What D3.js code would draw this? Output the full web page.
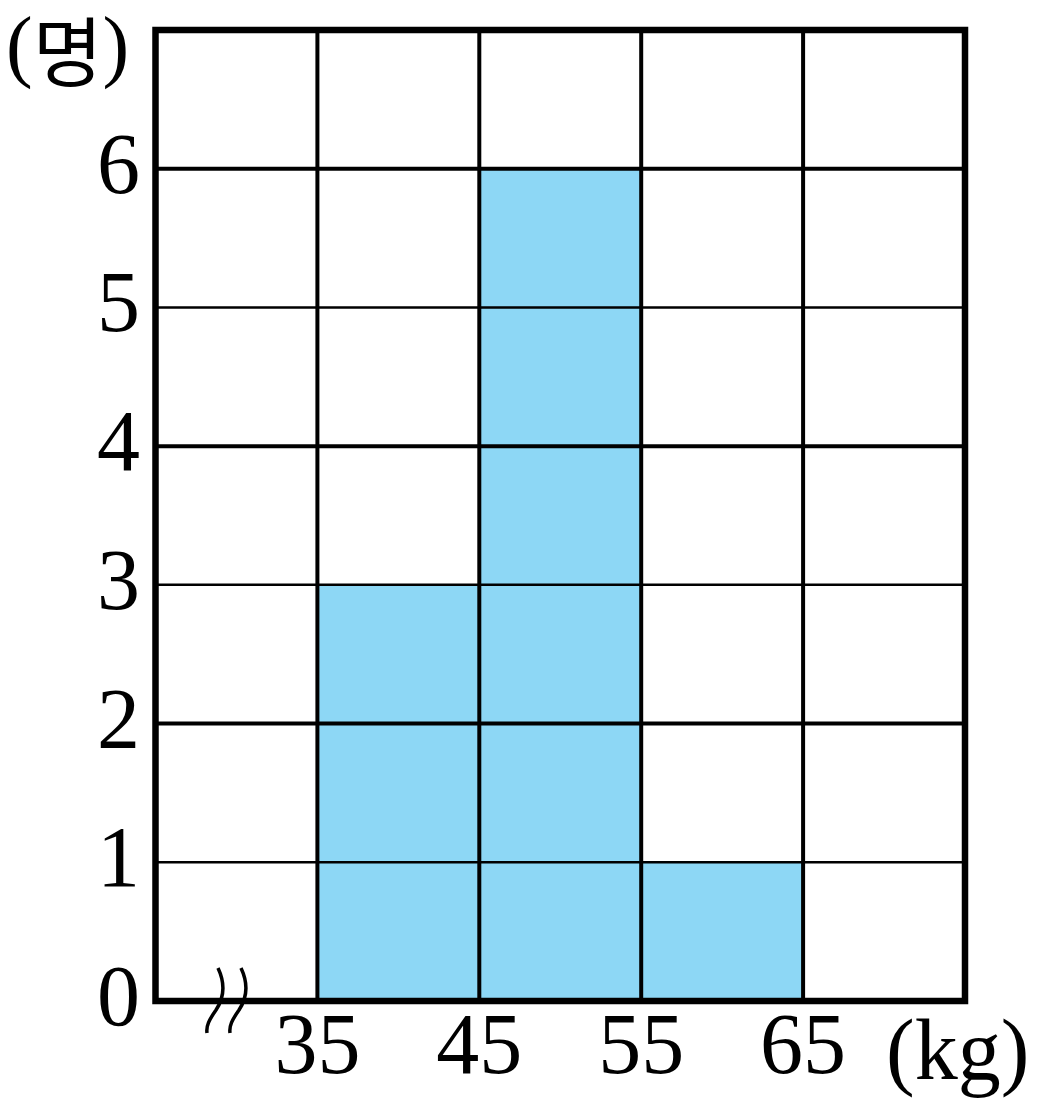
<!DOCTYPE html>
<html><head><meta charset="utf-8">
<script src="https://cdn.jsdelivr.net/npm/d3@7"></script>
<style>html,body{margin:0;padding:0;background:#fff;}</style>
</head><body>
<svg id="chart" width="1050" height="1111"></svg>
<script>
const binStarts = [25, 35, 45, 55, 65];
const counts = [0, 3, 6, 1, 0];
const xTickLabels = [35, 45, 55, 65];
const yTickLabels = [0, 1, 2, 3, 4, 5, 6];
const yMax = 7;
const xUnit = "(kg)";
const yUnit = "명";

(function(){
const svg = d3.select("#chart");
const pl = 155.5, pr = 965, pt = 30, pb = 1001;
const x = d3.scaleLinear().domain([25, 75]).range([pl, pr]);
const y = d3.scaleLinear().domain([0, yMax]).range([pb, pt]);
const font = "'Liberation Serif', 'Noto Sans CJK KR', serif";

// bars
svg.append("g").selectAll("rect").data(binStarts.map((b,i)=>({b, c:counts[i]})).filter(d=>d.c>0))
  .join("rect")
  .attr("x", d=>x(d.b)).attr("width", d=>x(d.b+10)-x(d.b))
  .attr("y", d=>y(d.c)).attr("height", d=>y(0)-y(d.c))
  .attr("fill", "#8dd7f5");

// horizontal grid
svg.append("g").selectAll("line").data(d3.range(1, yMax)).join("line")
  .attr("x1", pl).attr("x2", pr)
  .attr("y1", d=>y(d)).attr("y2", d=>y(d))
  .attr("stroke", "#000").attr("stroke-width", d=> d%2===0 ? 4 : 2.5);

// vertical grid
svg.append("g").selectAll("line").data(xTickLabels).join("line")
  .attr("x1", d=>x(d)).attr("x2", d=>x(d))
  .attr("y1", pt).attr("y2", pb)
  .attr("stroke", "#000").attr("stroke-width", 4);

// border
svg.append("rect").attr("x", pl).attr("y", pt)
  .attr("width", pr-pl).attr("height", pb-pt)
  .attr("fill", "none").attr("stroke", "#000").attr("stroke-width", 6.5);

// y tick labels
svg.append("g").selectAll("text").data(yTickLabels).join("text")
  .attr("x", 140).attr("y", d=>y(d)+24)
  .attr("text-anchor", "end")
  .attr("font-family", font).attr("font-size", 86)
  .text(d=>d);

// x tick labels
svg.append("g").selectAll("text").data(xTickLabels).join("text")
  .attr("x", d=>x(d)).attr("y", 1073)
  .attr("text-anchor", "middle")
  .attr("font-family", font).attr("font-size", 86)
  .text(d=>d);

// units
svg.append("text").attr("x", 886).attr("y", 1079)
  .attr("font-family", font).attr("font-size", 86).text(xUnit);
const yu = svg.append("text").attr("x", 6).attr("y", 72)
  .attr("font-family", font).attr("font-size", 80);
yu.append("tspan").text("(");
yu.append("tspan").attr("dy", 9).attr("font-size", 76).attr("font-family", "'Noto Sans CJK KR', sans-serif").text(yUnit);
yu.append("tspan").attr("dy", -9).text(")");

// axis break mark
const brk = (dx) => `M${218+dx},968 C${226+dx},985 ${224+dx},998 ${216+dx},1010 C${209+dx},1020 ${206+dx},1026 ${207+dx},1033`;
svg.append("g").selectAll("path").data([0, 23]).join("path")
  .attr("d", d=>brk(d)).attr("fill", "none")
  .attr("stroke", "#000").attr("stroke-width", 3.5);
})();
</script>
</body></html>
